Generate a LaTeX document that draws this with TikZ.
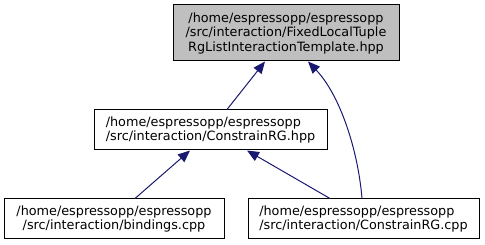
\documentclass[tikz,border=0pt]{standalone}
\usepackage{fontspec}
\setmainfont{DejaVu Sans}
\usetikzlibrary{arrows.meta}
\definecolor{edgeblue}{HTML}{191970}
\definecolor{rootfill}{HTML}{BFBFBF}
\tikzset{
  filebox/.style={draw=black, line width=1pt, fill=white, rectangle, inner sep=0pt,
    font=\fontsize{12.8}{14}\selectfont},
  rootbox/.style={filebox, fill=rootfill, font=\fontsize{12.8}{14.5}\selectfont},
  dep/.style={draw=edgeblue, line width=1pt,
    -{Triangle[length=12pt,width=10pt]}},
}
\begin{document}
\begin{tikzpicture}[x=1pt, y=-1pt]
  \useasboundingbox (0,0) rectangle (485,245);

  % header and its includers
  \node[rootbox, align=center, minimum width=226pt, minimum height=56pt] (root) at (286,33)
    {/home/espressopp/espressopp\\/src/interaction/FixedLocalTuple\\RgListInteractionTemplate.hpp};
  \node[filebox, align=left, minimum width=233pt, minimum height=40pt] (chpp) at (210.5,130)
    {/home/espressopp/espressopp\\/src/interaction/ConstrainRG.hpp};
  \node[filebox, align=center, minimum width=220pt, minimum height=40pt] (bind) at (114,219)
    {/home/espressopp/espressopp\\/src/interaction/bindings.cpp};
  \node[filebox, align=left, minimum width=231pt, minimum height=40pt] (ccpp) at (363.5,219)
    {/home/espressopp/espressopp\\/src/interaction/ConstrainRG.cpp};

  % include edges
  \draw[dep] ([xshift=16.5pt]chpp.north) -- ([xshift=-21pt]root.south);
  \draw[dep] ([xshift=-1.5pt]ccpp.north) .. controls (358,150) and (340,95) .. ([xshift=22pt]root.south);
  \draw[dep] ([xshift=21pt]bind.north) -- ([xshift=-20.5pt]chpp.south);
  \draw[dep] ([xshift=-33.5pt]ccpp.north) -- ([xshift=36.5pt]chpp.south);
\end{tikzpicture}
\end{document}
